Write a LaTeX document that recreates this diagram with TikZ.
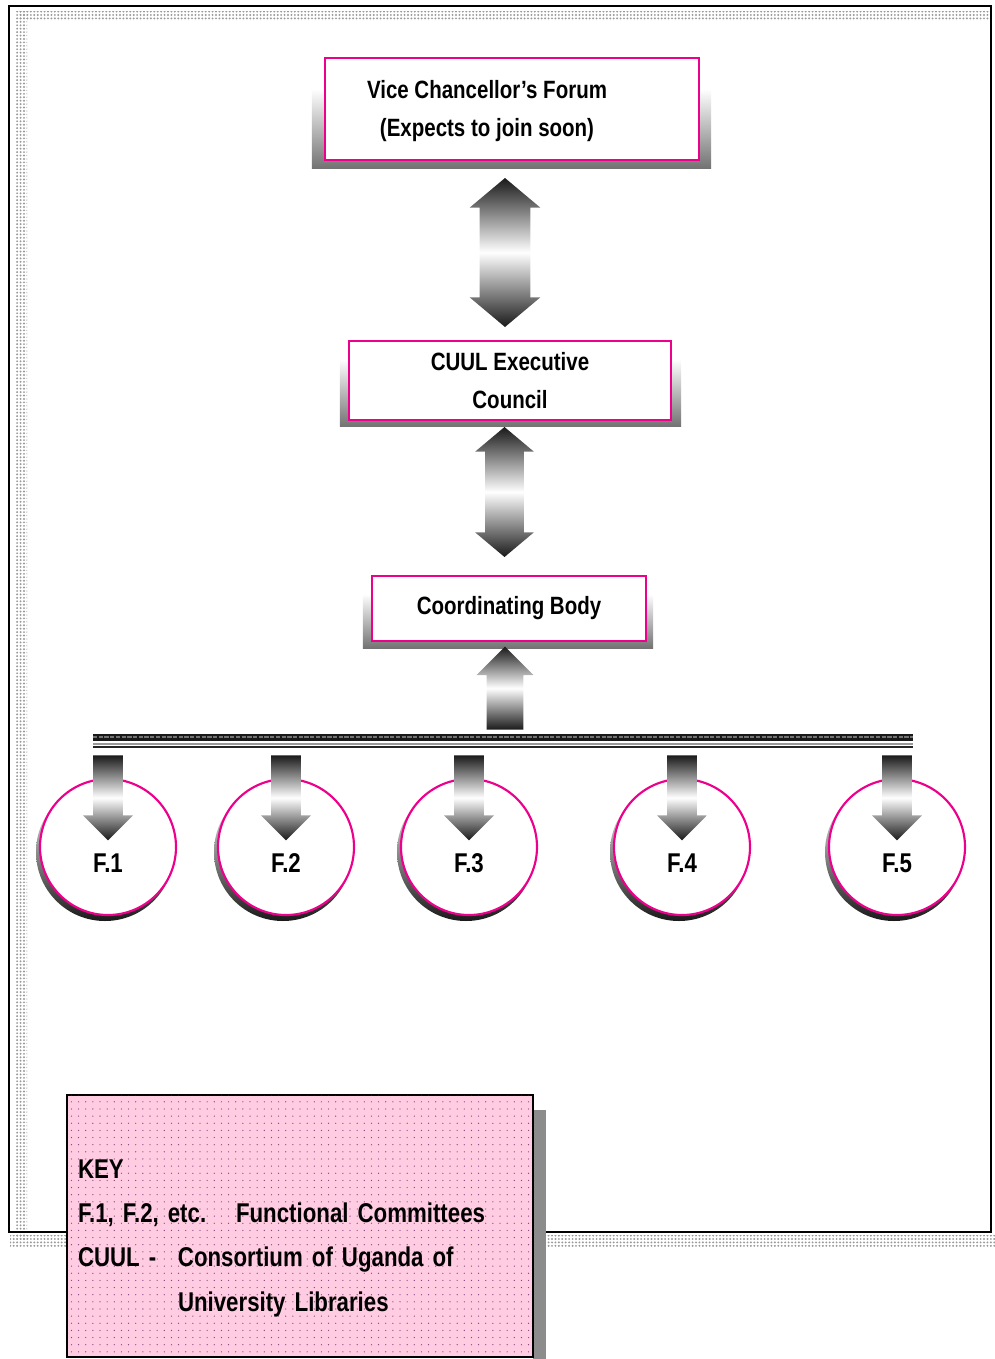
\documentclass[tikz,border=0pt]{standalone}
\usepackage{fontspec}
\setmainfont[FakeStretch=0.82]{Liberation Sans}
\usetikzlibrary{positioning,calc,shapes.arrows,backgrounds,patterns.meta}

\newcommand\pxu{0.7pt}
\definecolor{rimpink}{RGB}{236,0,140}
\definecolor{keypink}{RGB}{255,204,226}

\tikzset{
  orgtext/.style={align=center, font=\bfseries\fontsize{17.5}{26}\selectfont},
  orgbox/.style={orgtext, draw=rimpink, line width=1.5pt, fill=white, inner sep=0pt},
  boxshadow/.style={top color=white, bottom color=black!55},
  fctext/.style={font=\bfseries\fontsize{19}{22}\selectfont},
  committee/.style={circle, draw=rimpink, line width=1.5pt, fill=white,
    minimum size=136*\pxu, inner sep=0pt},
  ringshadow/.style={top color=white, middle color=black!25, bottom color=black!90},
  blockarrow/.style={inner sep=0pt, top color=black!90, bottom color=black!90, middle color=white},
  twoway/.style={blockarrow, double arrow, shape border rotate=90, double arrow tip angle=100},
  oneway/.style={blockarrow, single arrow, single arrow tip angle=90},
  hatch/.style={pattern={Dots[distance=2.4pt,radius=0.75pt]}, pattern color=black!40},
  keybox/.style={draw=black, line width=1pt, fill=keypink,
    postaction={pattern={Dots[distance=5pt,radius=0.45pt]}, pattern color=violet!45!gray},
    align=left, inner xsep=11*\pxu, text width=444*\pxu,
    font=\bfseries\fontsize{19}{31}\selectfont}
}

\begin{document}
\begin{tikzpicture}[x=\pxu, y=-\pxu]
  \useasboundingbox (0,0) rectangle (995,1359);

  % page frame and its grey edge
  \fill[hatch] (18,12) rectangle (991,21);
  \fill[hatch] (15,12) rectangle (27,1240);
  \fill[hatch] (10,1235) rectangle (995,1247);
  \draw[line width=1.4pt] (9,6) rectangle (991,1232);

  % the three bodies
  \node[orgbox, minimum width=374*\pxu, minimum height=102*\pxu,
    label={[orgtext, xshift=-25*\pxu, yshift=-2*\pxu]center:{Vice Chancellor's Forum\\(Expects to join soon)}}]
    (vcf) at (512,109) {};
  \node[orgbox, minimum width=322*\pxu, minimum height=79*\pxu]
    (exec) at (510,380.5) {CUUL Executive\\Council};
  \node[orgbox, minimum width=274*\pxu, minimum height=65*\pxu]
    (cb) at (509,608.5) {Coordinating Body};

  \begin{scope}[on background layer]
    \shade[boxshadow] ($(vcf.north west)+(-12,32)$) rectangle ($(vcf.south east)+(11,7)$);
    \shade[boxshadow] ($(exec.north west)+(-8,19)$) rectangle ($(exec.south east)+(9,5)$);
    \shade[boxshadow] ($(cb.north west)+(-8,19)$) rectangle ($(cb.south east)+(6,6)$);
  \end{scope}

  \node[twoway, minimum height=149*\pxu, minimum width=68*\pxu, inner sep=25*\pxu]
    (a1) at ($(vcf.south)!0.5!(exec.north)+(-6,2)$) {};
  \node[twoway, minimum height=130*\pxu, minimum width=58*\pxu, inner sep=19*\pxu]
    (a2) at ($(exec.south)!0.5!(cb.north)+(-5,-6)$) {};

  % bus bar under the coordinating body
  \coordinate (busl) at (93,737);
  \coordinate (busr) at (913,737);
  \coordinate (hub) at (505,730);
  \draw[line width=7*\pxu, black!90] (busl) -- (busr);
  \draw[line width=0.8pt, black!55, dash pattern=on 3pt off 1pt] (busl) -- (busr);
  \draw[line width=0.8pt, black!40] ($(busl)+(0,7)$) -- ($(busr)+(0,7)$);
  \draw[line width=1.6pt, black!85] ($(busl)+(0,10)$) -- ($(busr)+(0,10)$);

  \node[oneway, shape border rotate=90, minimum height=83*\pxu, minimum width=52*\pxu, inner sep=18*\pxu,
    anchor=tail] (up) at (hub) {};

  % functional committees
  \foreach \n/\xc in {1/108,2/286,3/469,4/682,5/897}{
    \node[committee, label={[fctext, yshift=-16*\pxu]center:F.\n}] (f\n) at (\xc,847) {};
    \begin{scope}[on background layer]
      \shade[ringshadow] ($(f\n)+(-3,5)$) circle[radius=69*\pxu];
    \end{scope}
    \node[oneway, shape border rotate=270, minimum height=85*\pxu, minimum width=45*\pxu, inner sep=14.5*\pxu,
      anchor=tail] (d\n) at ($(f\n |- busl)+(0,18)$) {};
  }

  % key
  \fill[black!45] (533,1110) rectangle (546,1359);
  \node[keybox, minimum height=262*\pxu] (key) at (300,1226)
    {\rule{0pt}{30pt}KEY\\
     F.1, F.2, etc.\hspace{1.1em}Functional Committees\\
     \makebox[70pt][l]{CUUL -}Consortium of Uganda of\\
     \hspace*{70pt}University Libraries};
\end{tikzpicture}
\end{document}
